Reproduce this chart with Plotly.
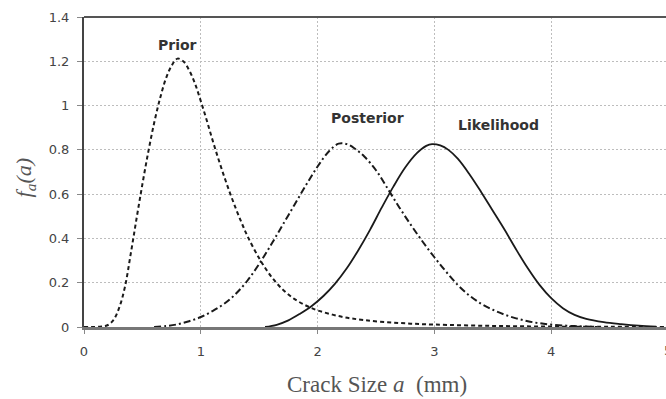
import plotly.graph_objects as go

# ---- data ----
prior_x = [0.00, 0.15, 0.20, 0.25, 0.30, 0.35, 0.40, 0.45, 0.50, 0.55, 0.60, 0.65, 0.70, 0.75, 0.80, 0.85,
           0.90, 0.95, 1.00, 1.05, 1.10, 1.15, 1.20, 1.25, 1.30, 1.35, 1.40, 1.50, 1.60, 1.70, 1.80, 1.90,
           2.00, 2.20, 2.40, 2.70, 3.00, 3.50, 4.00, 4.50, 4.98]
prior_y = [0.000, 0.002, 0.008, 0.030, 0.085, 0.180, 0.330, 0.490, 0.645, 0.790, 0.920, 1.030, 1.120, 1.180, 1.212, 1.200,
           1.160, 1.100, 1.020, 0.935, 0.845, 0.760, 0.680, 0.605, 0.535, 0.470, 0.410, 0.310, 0.230, 0.170, 0.127, 0.097,
           0.075, 0.047, 0.031, 0.018, 0.011, 0.005, 0.002, 0.001, 0.000]

post_x = [0.60, 0.70, 0.80, 0.90, 1.00, 1.10, 1.20, 1.30, 1.40, 1.50, 1.60, 1.70, 1.80, 1.90, 2.00, 2.10,
          2.18, 2.25, 2.32, 2.40, 2.50, 2.60, 2.70, 2.80, 2.90, 3.00, 3.10, 3.20, 3.30, 3.40, 3.50, 3.60,
          3.70, 3.80, 3.90, 4.00, 4.20, 4.40]
post_y = [0.000, 0.004, 0.012, 0.026, 0.045, 0.072, 0.105, 0.150, 0.210, 0.285, 0.370, 0.460, 0.550, 0.640, 0.725, 0.795,
          0.828, 0.826, 0.805, 0.770, 0.708, 0.625, 0.540, 0.460, 0.385, 0.315, 0.250, 0.190, 0.142, 0.105, 0.078, 0.056,
          0.039, 0.026, 0.017, 0.011, 0.004, 0.000]

like_x = [1.55, 1.65, 1.75, 1.85, 1.95, 2.05, 2.15, 2.25, 2.35, 2.45, 2.55, 2.65, 2.75, 2.85, 2.93, 2.98,
          3.05, 3.12, 3.20, 3.30, 3.40, 3.50, 3.60, 3.70, 3.80, 3.90, 4.00, 4.10, 4.20, 4.30, 4.45, 4.60,
          4.75, 4.90]
like_y = [0.000, 0.010, 0.030, 0.060, 0.095, 0.140, 0.196, 0.265, 0.348, 0.440, 0.540, 0.635, 0.720, 0.785, 0.818, 0.826,
          0.820, 0.800, 0.760, 0.690, 0.610, 0.525, 0.440, 0.350, 0.265, 0.190, 0.130, 0.085, 0.055, 0.037, 0.022, 0.013,
          0.006, 0.002]

x_ticks = [0, 1, 2, 3, 4]
x_ticktext = ["0", "1", "2", "3", "4"]
y_ticks = [0, 0.2, 0.4, 0.6, 0.8, 1.0, 1.2, 1.4]
y_ticktext = ["0", "0.2", "0.4", "0.6", "0.8", "1", "1.2", "1.4"]

curve_labels = ["Prior", "Posterior", "Likelihood"]
label_x = [0.80, 2.43, 3.55]
label_y = [1.274, 0.944, 0.912]

LINE = "#1a1a1a"
TICKFONT = dict(family="DejaVu Sans", size=13, color="#444444")

fig = go.Figure()
fig.add_trace(go.Scatter(x=prior_x, y=prior_y, mode="lines", name="Prior",
                         line=dict(color=LINE, width=2, dash="4px,3px", shape="spline", smoothing=1)))
fig.add_trace(go.Scatter(x=post_x, y=post_y, mode="lines", name="Posterior",
                         line=dict(color=LINE, width=2, dash="7px,3px,2px,3px", shape="spline", smoothing=1)))
fig.add_trace(go.Scatter(x=like_x, y=like_y, mode="lines", name="Likelihood",
                         line=dict(color=LINE, width=1.8, shape="spline", smoothing=1)))

for t, lx, ly in zip(curve_labels, label_x, label_y):
    fig.add_annotation(x=lx, y=ly, xref="x", yref="y", text="<b>%s</b>" % t, showarrow=False,
                       font=dict(family="DejaVu Sans", size=14, color="#333333"))

# axis titles
fig.add_annotation(x=0.5034, y=-0.187, xref="paper", yref="paper", xanchor="center", yanchor="middle",
                   text="Crack Size <i>a</i>  (mm)", showarrow=False,
                   font=dict(family="Liberation Serif", size=23, color="#555555"))
fig.add_annotation(x=-0.101, y=0.48, xref="paper", yref="paper", xanchor="center", yanchor="middle",
                   textangle=-90, text="<i>f<sub>a</sub>(a)</i>", showarrow=False,
                   font=dict(family="Liberation Serif", size=22, color="#555555"))
# partially visible "5" tick label at the right edge (cut off in the reference too)
fig.add_annotation(x=1.00344, y=-0.075, xref="paper", yref="paper", xanchor="center", yanchor="middle",
                   text="5", showarrow=False, font=TICKFONT)

# top frame line
fig.add_shape(type="line", xref="paper", yref="paper", x0=0, x1=1, y0=1, y1=1,
              line=dict(color="#555555", width=2))

fig.update_layout(
    width=666, height=399,
    margin=dict(l=84, r=0, t=17, b=72),
    paper_bgcolor="white", plot_bgcolor="white",
    showlegend=False,
    xaxis=dict(range=[0, 4.983], tickvals=x_ticks, ticktext=x_ticktext, tickfont=TICKFONT,
               showgrid=True, gridcolor="#bdbdbd", griddash="2px,2px", gridwidth=1,
               zeroline=False, showline=True, linecolor="#777777", linewidth=3,
               ticks="outside", ticklen=4, tickcolor="#888888", tickwidth=1, ticklabelstandoff=6),
    yaxis=dict(range=[0, 1.4], tickvals=y_ticks, ticktext=y_ticktext, tickfont=TICKFONT,
               showgrid=True, gridcolor="#bdbdbd", griddash="2px,2px", gridwidth=1,
               zeroline=False, showline=True, linecolor="#444444", linewidth=2,
               ticks="outside", ticklen=5, tickcolor="#888888", tickwidth=1, ticklabelstandoff=5),
)

fig.write_html("out.html")
